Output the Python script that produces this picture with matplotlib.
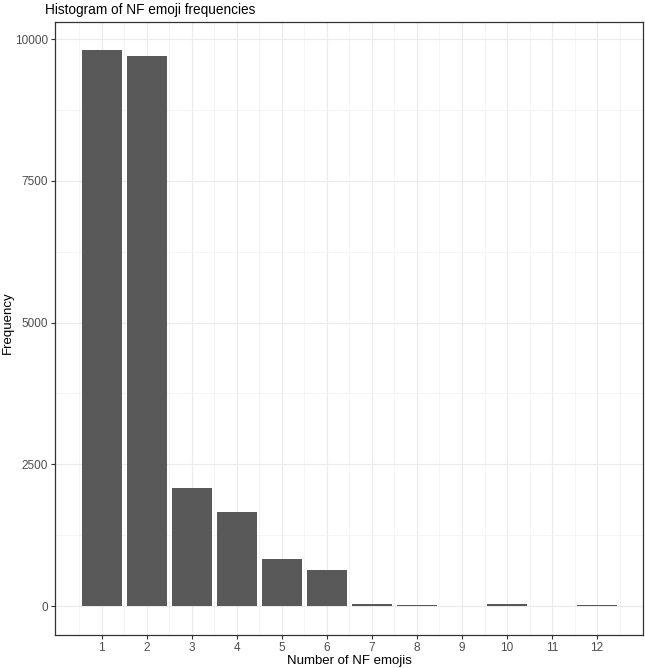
import matplotlib
matplotlib.use("Agg")
import matplotlib.pyplot as plt
from matplotlib.ticker import FixedLocator

plt.rcParams['font.family'] = ['Liberation Sans', 'DejaVu Sans']

counts = [1, 2, 3, 4, 5, 6, 7, 8, 9, 10, 11, 12]
freq = [9806, 9700, 2085, 1658, 829, 638, 35, 15, 0, 38, 0, 12]
yticks = [0, 2500, 5000, 7500, 10000]

fig = plt.figure(figsize=(6.45, 6.68), dpi=100)
ax = fig.add_axes([55/645, 1 - 635/668, (643-55)/645, (635-22)/668])

ax.bar(counts, freq, width=0.9, color='#595959', linewidth=0, zorder=3)

ax.set_xlim(-0.04, 13.02)
ax.set_ylim(-511, 10300)
ax.xaxis.set_major_locator(FixedLocator(counts))
ax.xaxis.set_minor_locator(FixedLocator([c - 0.5 for c in counts] + [12.5]))
ax.yaxis.set_major_locator(FixedLocator(yticks))
ax.yaxis.set_minor_locator(FixedLocator([1250, 3750, 6250, 8750]))
ax.grid(which='major', color='#EBEBEB', linewidth=0.8, zorder=0)
ax.grid(which='minor', color='#F2F2F2', linewidth=0.5, zorder=0)
ax.set_axisbelow(True)
for s in ax.spines.values():
    s.set_color('#333333')
    s.set_linewidth(0.9)
ax.tick_params(which='major', length=3, color='#333333', labelsize=8.5, labelcolor='#4D4D4D', width=0.8, pad=2)
ax.tick_params(which='minor', length=0)
fig.text(349/645, 1 - 664/668, 'Number of NF emojis', fontsize=9.5, ha='center', va='baseline')
fig.text(8/645, 1 - 323/668, 'Frequency', fontsize=9.5, ha='center', va='center', rotation=90)
fig.text(45/645, 1 - 10/668, 'Histogram of NF emoji frequencies', fontsize=9.8, ha='left', va='center')

fig.savefig('out.png', dpi=100)
